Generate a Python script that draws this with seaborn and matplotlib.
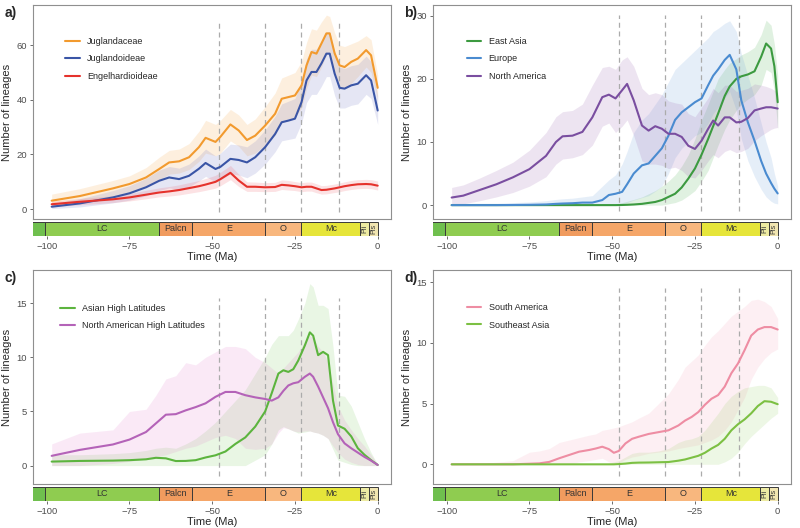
import numpy as np
import pandas as pd
import matplotlib.pyplot as plt
import seaborn as sns

sns.set_style("white")
plt.rcParams['font.family'] = ['Liberation Sans', 'DejaVu Sans']

# ---- panel a: family / subfamilies ----
time_a = [-98.5, -90, -80, -75, -70, -66, -63, -60, -57, -54, -52, -49, -47.5, -44.5, -42, -39.5, -37, -34,
          -31, -29, -27, -25, -23, -21.5, -20, -18.5, -17, -15.5, -14.5, -13, -11.5, -10, -8, -6, -3.5, -2, 0]
juglandaceae = [3.1, 4.8, 7.6, 9.2, 11.6, 14.7, 17.1, 17.5, 19.0, 22.7, 26.1, 24.6, 26.5, 31.0, 28.8, 25.3, 26.9, 30.6,
                34.9, 40.4, 41.0, 41.6, 45.3, 52.6, 57.5, 56.9, 60.6, 64.3, 64.3, 57.0, 52.6, 52.0, 53.9, 55.1, 58.2, 56.3, 44.4]
juglandaceae_lo = [1.2, 2.5, 4.8, 6.2, 8.3, 10.8, 12.8, 13.2, 14.5, 17.5, 20.5, 19.5, 20.5, 25.0, 23.0, 19.5, 20.5, 23.5,
                   27.0, 32.5, 33.0, 33.5, 37.0, 44.0, 49.0, 48.5, 52.0, 56.5, 57.0, 49.5, 45.0, 44.5, 46.0, 48.5, 52.0, 50.0, 40.0]
juglandaceae_hi = [5.5, 7.5, 10.5, 12.2, 15.2, 19.0, 21.5, 22.0, 24.0, 28.5, 32.5, 31.0, 32.5, 36.5, 34.5, 31.0, 33.0, 37.5,
                   42.5, 48.0, 49.0, 50.0, 54.0, 61.0, 66.0, 65.5, 68.5, 71.0, 70.5, 64.5, 60.0, 59.5, 60.5, 61.5, 63.5, 62.0, 49.0]
juglandoideae = [0.9, 2.1, 4.3, 5.8, 8.0, 10.4, 11.6, 11.0, 12.2, 14.8, 16.9, 14.7, 15.5, 18.4, 18.0, 17.1, 19.0, 22.7,
                 27.5, 31.8, 32.4, 33.1, 39.2, 47.1, 50.2, 50.2, 53.3, 56.9, 56.9, 49.6, 44.4, 44.1, 45.3, 45.9, 49.0, 47.1, 36.1]
juglandoideae_lo = [0.2, 0.8, 2.3, 3.3, 4.9, 6.8, 7.8, 7.2, 8.2, 10.3, 12.0, 10.0, 10.7, 13.0, 12.5, 11.5, 13.2, 16.5,
                    21.0, 25.0, 25.5, 26.0, 31.5, 39.0, 42.0, 42.0, 45.0, 48.5, 48.5, 41.5, 37.0, 37.0, 38.0, 38.5, 42.0, 40.5, 31.0]
juglandoideae_hi = [2.0, 3.8, 6.8, 8.6, 11.3, 14.3, 15.6, 15.0, 16.5, 19.5, 22.0, 19.5, 20.5, 23.8, 23.5, 22.8, 25.0, 29.0,
                    34.0, 38.5, 39.5, 40.5, 47.0, 55.0, 58.5, 58.5, 61.5, 65.0, 65.0, 57.5, 52.0, 51.5, 52.5, 53.0, 56.0, 54.0, 41.5]
engelhardioideae = [1.8, 2.7, 3.6, 4.3, 5.3, 6.1, 6.5, 7.0, 7.7, 8.4, 9.0, 10.0, 11.0, 13.3, 10.5, 8.2, 8.2, 8.0,
                    8.1, 8.9, 8.7, 8.4, 8.0, 8.2, 8.2, 7.6, 7.0, 7.1, 7.3, 7.6, 8.0, 8.4, 8.8, 9.1, 9.2, 9.1, 8.6]
engelhardioideae_lo = [0.8, 1.6, 2.4, 3.0, 3.8, 4.5, 4.8, 5.2, 5.8, 6.4, 6.9, 7.7, 8.6, 10.8, 8.3, 6.5, 6.5, 6.4,
                       6.5, 7.2, 7.0, 6.8, 6.4, 6.6, 6.6, 6.0, 5.5, 5.6, 5.8, 6.1, 6.4, 6.8, 7.2, 7.5, 7.6, 7.5, 7.0]
engelhardioideae_hi = [2.9, 3.9, 4.9, 5.7, 6.9, 7.8, 8.3, 8.9, 9.7, 10.5, 11.2, 12.4, 13.5, 16.0, 12.8, 10.0, 9.9, 9.7,
                       9.8, 10.7, 10.5, 10.1, 9.7, 9.9, 9.9, 9.3, 8.6, 8.7, 8.9, 9.2, 9.6, 10.0, 10.5, 10.8, 10.9, 10.8, 10.3]

# ---- panel b: East Asia / Europe / North America ----
time_b = [-98.5, -95, -90, -85, -80, -75, -70, -67, -65, -62, -59, -56, -53, -51, -49, -47, -45.5, -43.5, -41, -39, -37,
          -35, -33, -31, -29, -27, -25, -23, -21, -19.5, -18, -16, -14.5, -12.5, -11, -9, -7, -5, -3.5, -2, -1, 0]
east_asia = [0, 0, 0, 0, 0, 0, 0, 0, 0, 0, 0, 0, 0, 0, 0, 0.02, 0.05, 0.1, 0.2, 0.35, 0.5,
             0.8, 1.3, 1.8, 2.8, 4.2, 5.8, 8.0, 10.5, 12.5, 14.5, 17.3, 18.8, 20.0, 20.4, 20.7, 21.2, 23.5, 25.6, 24.8, 22.0, 16.3]
east_asia_lo = [0, 0, 0, 0, 0, 0, 0, 0, 0, 0, 0, 0, 0, 0, 0, 0, 0, 0, 0, 0, 0,
                0, 0.2, 0.4, 0.8, 1.5, 2.3, 3.8, 5.5, 7.5, 9.5, 12.0, 13.5, 15.0, 16.0, 16.8, 17.5, 19.0, 21.5, 21.0, 18.0, 12.0]
east_asia_hi = [0, 0, 0, 0, 0, 0, 0, 0, 0, 0, 0, 0, 0.2, 0.2, 0.2, 0.4, 0.6, 0.9, 1.3, 1.8, 2.3,
                3.0, 3.8, 4.8, 6.2, 8.0, 10.5, 13.5, 16.0, 18.0, 20.0, 21.5, 22.5, 23.2, 23.8, 24.3, 25.0, 27.0, 29.3, 28.5, 25.5, 20.5]
europe = [0, 0, 0, 0, 0.02, 0.05, 0.1, 0.2, 0.25, 0.3, 0.4, 0.4, 0.8, 1.6, 1.8, 2.1, 3.3, 5.0, 6.3, 6.6, 7.8,
          9.0, 11.0, 13.5, 14.7, 15.5, 16.3, 16.9, 19.0, 20.5, 21.5, 23.0, 23.8, 21.5, 16.6, 13.1, 10.2, 7.0, 5.0, 3.5, 2.6, 1.85]
europe_lo = [0, 0, 0, 0, 0, 0, 0, 0, 0, 0, 0, 0, 0, 0, 0, 0.2, 0.4, 0.8, 1.2, 1.5, 2.2,
             3.0, 5.0, 7.5, 9.0, 10.0, 11.0, 11.5, 13.0, 14.5, 15.5, 17.0, 18.0, 15.0, 10.5, 7.0, 4.5, 2.5, 1.3, 0.6, 0.3, 0.2]
europe_hi = [0.3, 0.3, 0.3, 0.3, 0.4, 0.5, 0.7, 0.9, 1.0, 1.1, 1.3, 1.5, 3.0, 4.0, 4.8, 6.5, 8.5, 11.5, 13.5, 14.5, 16.0,
             17.5, 19.5, 21.5, 22.5, 23.5, 24.5, 25.5, 26.5, 27.5, 28.0, 28.8, 29.2, 27.5, 24.0, 20.5, 17.0, 13.0, 10.0, 7.5, 5.0, 3.0]
north_america = [1.2, 1.5, 2.4, 3.3, 4.4, 5.7, 7.8, 10.0, 10.9, 11.0, 11.6, 13.9, 17.1, 17.5, 16.9, 18.2, 19.2, 16.6, 12.6, 11.8, 12.5,
                 12.1, 11.3, 11.3, 10.8, 9.4, 8.9, 10.2, 12.1, 13.4, 12.6, 13.9, 13.9, 13.1, 13.2, 13.8, 15.0, 15.3, 15.5, 15.5, 15.4, 15.3]
north_america_lo = [0.0, 0.2, 0.7, 1.3, 2.0, 3.0, 4.5, 6.5, 7.3, 7.5, 8.0, 9.5, 12.5, 13.0, 11.5, 12.5, 13.5, 11.0, 7.0, 6.5, 6.5,
                    6.3, 5.8, 6.0, 5.5, 4.5, 4.3, 5.5, 7.0, 8.0, 7.5, 8.5, 8.8, 8.3, 8.5, 9.0, 10.2, 11.0, 11.5, 12.0, 12.2, 12.3]
north_america_hi = [2.8, 3.2, 4.3, 5.5, 6.8, 8.7, 11.5, 14.0, 14.8, 15.0, 16.0, 19.0, 21.8, 22.0, 21.5, 23.0, 23.5, 22.0, 18.5, 17.5, 17.8,
                    17.5, 16.5, 16.2, 16.0, 14.5, 14.0, 15.5, 17.0, 18.5, 17.8, 19.0, 19.0, 18.0, 18.2, 18.5, 19.2, 19.0, 18.8, 18.5, 18.2, 17.8]

# ---- panel c: high latitudes ----
time_c = [-98.5, -90, -80, -75, -70, -67, -64, -61, -58, -55, -52, -49, -46, -43, -40, -37, -34, -32, -30,
          -28.5, -27, -25.5, -24, -22, -20.5, -19.5, -18, -16.5, -15, -13.5, -12, -10, -8, -6, -4, -2, 0]
asian_hl = [0.37, 0.43, 0.46, 0.5, 0.58, 0.72, 0.67, 0.42, 0.43, 0.5, 0.75, 0.95, 1.3, 2.0, 2.6, 3.6, 5.0, 6.7, 8.5,
            8.8, 8.65, 8.9, 9.7, 11.1, 12.3, 12.0, 10.2, 10.5, 10.2, 6.0, 3.7, 3.4, 2.7, 1.6, 1.0, 0.5, 0.06]
asian_hl_lo = [0, 0, 0, 0, 0, 0, 0, 0, 0, 0, 0, 0, 0, 0, 0, 0.5, 1.0, 2.0, 3.3,
               3.6, 3.4, 3.2, 3.0, 3.1, 3.2, 3.1, 3.0, 2.8, 2.5, 1.5, 0.5, 0.3, 0.1, 0, 0, 0, 0]
asian_hl_hi = [1.0, 1.0, 1.1, 1.2, 1.4, 1.6, 1.7, 1.6, 2.0, 2.5, 3.2, 4.0, 5.0, 6.0, 7.0, 8.5, 10.0, 11.2, 12.0,
               12.0, 12.0, 12.5, 13.5, 15.0, 16.8, 16.5, 14.8, 14.8, 14.5, 11.0, 6.5, 6.4, 5.5, 4.0, 2.5, 1.2, 0.1]
na_hl = [0.9, 1.45, 1.95, 2.4, 3.1, 3.9, 4.7, 4.75, 5.1, 5.4, 5.75, 6.35, 6.8, 6.8, 6.5, 6.3, 6.15, 6.0, 6.3,
         6.9, 7.4, 7.6, 7.7, 8.2, 8.5, 8.2, 7.3, 6.3, 5.3, 4.0, 2.9, 2.05, 1.6, 1.2, 0.8, 0.46, 0.06]
na_hl_lo = [0, 0, 0.2, 0.4, 0.6, 0.8, 1.0, 1.3, 1.6, 1.8, 2.2, 2.6, 2.8, 2.5, 1.6, 1.5, 1.6, 2.0, 3.0,
            3.5, 3.4, 3.2, 3.1, 3.2, 3.2, 3.1, 3.0, 2.8, 2.5, 1.8, 1.2, 0.6, 0.3, 0.1, 0, 0, 0]
na_hl_hi = [2.0, 3.0, 3.3, 5.0, 5.2, 6.5, 8.0, 8.3, 9.5, 9.3, 10.0, 10.5, 11.0, 11.0, 10.8, 10.0, 9.5, 9.0, 8.5,
            9.0, 9.5, 10.0, 10.5, 11.5, 12.0, 11.8, 11.0, 10.5, 9.5, 7.5, 5.5, 4.2, 3.3, 2.5, 1.8, 1.0, 0.1]

# ---- panel d: tropics ----
time_d = [-98.5, -90, -80, -75, -72, -69, -66, -63, -60, -57, -55, -53, -51, -49.5, -48, -46, -44, -42, -39,
          -36, -33, -30, -28, -26, -24, -22, -20, -18, -16, -14, -12, -10, -8, -6, -4, -2, 0]
south_america = [0, 0, 0, 0.05, 0.08, 0.2, 0.5, 0.77, 1.04, 1.18, 1.3, 1.45, 1.25, 0.95, 1.1, 1.72, 2.1, 2.27, 2.5,
                 2.65, 2.8, 3.2, 3.6, 3.9, 4.3, 4.9, 5.4, 5.7, 6.4, 7.5, 8.3, 9.4, 10.6, 11.1, 11.3, 11.3, 11.1]
south_america_lo = [0, 0, 0, 0, 0, 0, 0, 0, 0.2, 0.3, 0.4, 0.5, 0.2, 0, 0.1, 0.4, 0.6, 0.7, 0.9,
                    1.0, 1.1, 1.3, 1.4, 1.5, 1.6, 1.8, 2.0, 2.3, 2.8, 3.5, 4.5, 5.5, 7.0, 8.0, 8.7, 9.2, 9.5]
south_america_hi = [0, 0.05, 0.3, 1.0, 1.1, 1.3, 1.8, 2.0, 2.2, 2.4, 2.5, 2.8, 2.9, 3.0, 3.1, 3.3, 3.5, 3.8, 4.2,
                    5.0, 5.8, 7.0, 8.0, 8.5, 9.0, 9.8, 10.5, 11.0, 11.6, 12.2, 12.6, 13.0, 13.5, 13.6, 13.4, 13.0, 12.0]
se_asia = [0, 0, 0, 0, 0, 0, 0, 0, 0, 0, 0, 0, 0, 0, 0.02, 0.06, 0.12, 0.14, 0.15,
           0.17, 0.19, 0.3, 0.4, 0.55, 0.7, 0.95, 1.3, 1.6, 2.1, 2.8, 3.3, 3.7, 4.2, 4.8, 5.2, 5.15, 4.95]
se_asia_lo = [0, 0, 0, 0, 0, 0, 0, 0, 0, 0, 0, 0, 0, 0, 0, 0, 0, 0, 0,
              0, 0, 0, 0, 0, 0, 0, 0, 0, 0.2, 0.5, 1.0, 1.7, 2.3, 2.8, 3.3, 3.8, 4.2]
se_asia_hi = [0, 0, 0, 0, 0, 0, 0, 0, 0, 0, 0, 0, 0.1, 0.2, 0.3, 0.6, 0.9, 1.0, 1.0,
              1.1, 1.3, 1.8, 2.0, 2.1, 2.3, 2.8, 3.5, 4.2, 5.0, 5.6, 6.0, 6.3, 6.4, 6.5, 6.5, 6.3, 5.5]

# geological timescale (epochs)
geo_labels = ["", "LC", "Palcn", "E", "O", "Mc", "Pli", "Pls"]
geo_start = [-145.0, -100.5, -66.0, -56.0, -33.9, -23.03, -5.333, -2.58]
geo_end = [-100.5, -66.0, -56.0, -33.9, -23.03, -5.333, -2.58, 0.0]
geo_colors = ["#6FBF4E", "#8FCC50", "#F09B5E", "#F5A668", "#F8B77E", "#E6E53A", "#EDEBA2", "#F1E5B0"]

# dashed reference lines
event_times = [-47.8, -33.9, -23.03, -11.63]

panels = [
    dict(tag="a)", time=time_a, ylim=(-3.6, 74.7), yticks=[0, 20, 40, 60], vtop=68.6,
         names=["Juglandaceae", "Juglandoideae", "Engelhardioideae"],
         mean=[juglandaceae, juglandoideae, engelhardioideae],
         lo=[juglandaceae_lo, juglandoideae_lo, engelhardioideae_lo],
         hi=[juglandaceae_hi, juglandoideae_hi, engelhardioideae_hi],
         colors=["#F29A2E", "#3A55A6", "#E5322C"], fills=["#F7A440", "#6A6FC0", "#EE5560"], alpha=0.17,
         pos=(33.3, 5), leg=(0.089, 0.852)),
    dict(tag="b)", time=time_b, ylim=(-2.2, 31.7), yticks=[0, 10, 20, 30], vtop=30.1,
         names=["East Asia", "Europe", "North America"],
         mean=[east_asia, europe, north_america],
         lo=[east_asia_lo, europe_lo, north_america_lo],
         hi=[east_asia_hi, europe_hi, north_america_hi],
         colors=["#3C9A40", "#4A8BD0", "#7A4EA0"], fills=["#4CAF50", "#6A9EDB", "#9A62B0"], alpha=0.17,
         pos=(433.3, 5), leg=(0.094, 0.852)),
    dict(tag="c)", time=time_c, ylim=(-1.7, 18.06), yticks=[0, 5, 10, 15], vtop=15.5,
         names=["Asian High Latitudes", "North American High Latitudes"],
         mean=[asian_hl, na_hl], lo=[asian_hl_lo, na_hl_lo], hi=[asian_hl_hi, na_hl_hi],
         colors=["#5CB43E", "#B463B8"], fills=["#6CC450", "#E070C8"], alpha=0.15,
         pos=(33.3, 270), leg=(0.075, 0.842)),
    dict(tag="d)", time=time_d, ylim=(-1.62, 16.0), yticks=[0, 5, 10, 15], vtop=14.5,
         names=["South America", "Southeast Asia"],
         mean=[south_america, se_asia], lo=[south_america_lo, se_asia_lo], hi=[south_america_hi, se_asia_hi],
         colors=["#EE8DA3", "#7CC043"], fills=["#F59AB0", "#8CCB55"], alpha=0.15,
         pos=(433.3, 270), leg=(0.094, 0.846)),
]

W, H = 800, 528
xlim = (-104.05, 3.93)
fig = plt.figure(figsize=(W / 100, H / 100), dpi=100)

for p in panels:
    x0, top = p["pos"]
    w, h = 357.4, 214.0
    ax = fig.add_axes([x0 / W, 1 - (top + h) / H, w / W, h / H])
    axb = fig.add_axes([x0 / W, 1 - (top + h + 16.5) / H, w / W, 14 / H])

    # ribbons first, then the dashed lines, then the mean curves
    for lo, hi, c in zip(p["lo"], p["hi"], p["fills"]):
        ax.fill_between(p["time"], lo, hi, color=c, alpha=p["alpha"], linewidth=0)
    ax.vlines(event_times, -1, p["vtop"], colors="#ABABAB", linestyles=(0, (4, 3)), linewidth=0.9)

    df = pd.DataFrame({
        "time": np.tile(p["time"], len(p["names"])),
        "lineages": np.concatenate(p["mean"]),
        "group": np.repeat(p["names"], len(p["time"])),
    })
    sns.lineplot(data=df, x="time", y="lineages", hue="group", hue_order=p["names"],
                 palette=dict(zip(p["names"], p["colors"])), errorbar=None,
                 linewidth=1.5, ax=ax)
    sns.move_legend(ax, "upper left", bbox_to_anchor=p["leg"], frameon=False, title=None,
                    fontsize=6.5, handlelength=1.6, handletextpad=0.8, labelspacing=0.95,
                    borderaxespad=0, borderpad=0)

    ax.set_xlim(xlim)
    ax.set_ylim(p["ylim"])
    ax.set_yticks(p["yticks"])
    ax.set_xticks([])
    ax.set_xlabel("")
    ax.set_ylabel("Number of lineages", fontsize=8, labelpad=3)
    ax.tick_params(axis="y", length=2.5, width=0.6, color="#555555", labelsize=6.8,
                   labelcolor="#4D4D4D", pad=2, left=True)
    for s in ax.spines.values():
        s.set_color("#8F8F8F")
        s.set_linewidth(0.8)

    # timescale bar
    widths = [e - s for s, e in zip(geo_start, geo_end)]
    axb.barh(0.5, widths, left=geo_start, height=1, color=geo_colors,
             edgecolor="#3A3A3A", linewidth=0.7)
    for lab, s, e in zip(geo_labels, geo_start, geo_end):
        mid = (max(s, xlim[0]) + e) / 2
        if lab in ("Pli", "Pls"):
            axb.text(mid, 0.5, lab, rotation=90, ha="center", va="center", fontsize=5.2, color="#333333")
        elif lab:
            axb.text(mid, 0.5, lab, ha="center", va="center", fontsize=6.5, color="#333333")
    axb.set_xlim(xlim)
    axb.set_ylim(0, 1)
    axb.set_yticks([])
    axb.set_xticks([-100, -75, -50, -25, 0])
    axb.tick_params(axis="x", length=2.5, width=0.6, color="#555555", labelsize=6.8,
                    labelcolor="#4D4D4D", pad=2, bottom=True)
    axb.set_xlabel("Time (Ma)", fontsize=8, labelpad=1)
    for s in axb.spines.values():
        s.set_visible(False)

    fig.text((x0 - 29) / W, 1 - (top + 8) / H, p["tag"], fontsize=10, fontweight="bold", va="center")

plt.savefig("out.png", dpi=100)
